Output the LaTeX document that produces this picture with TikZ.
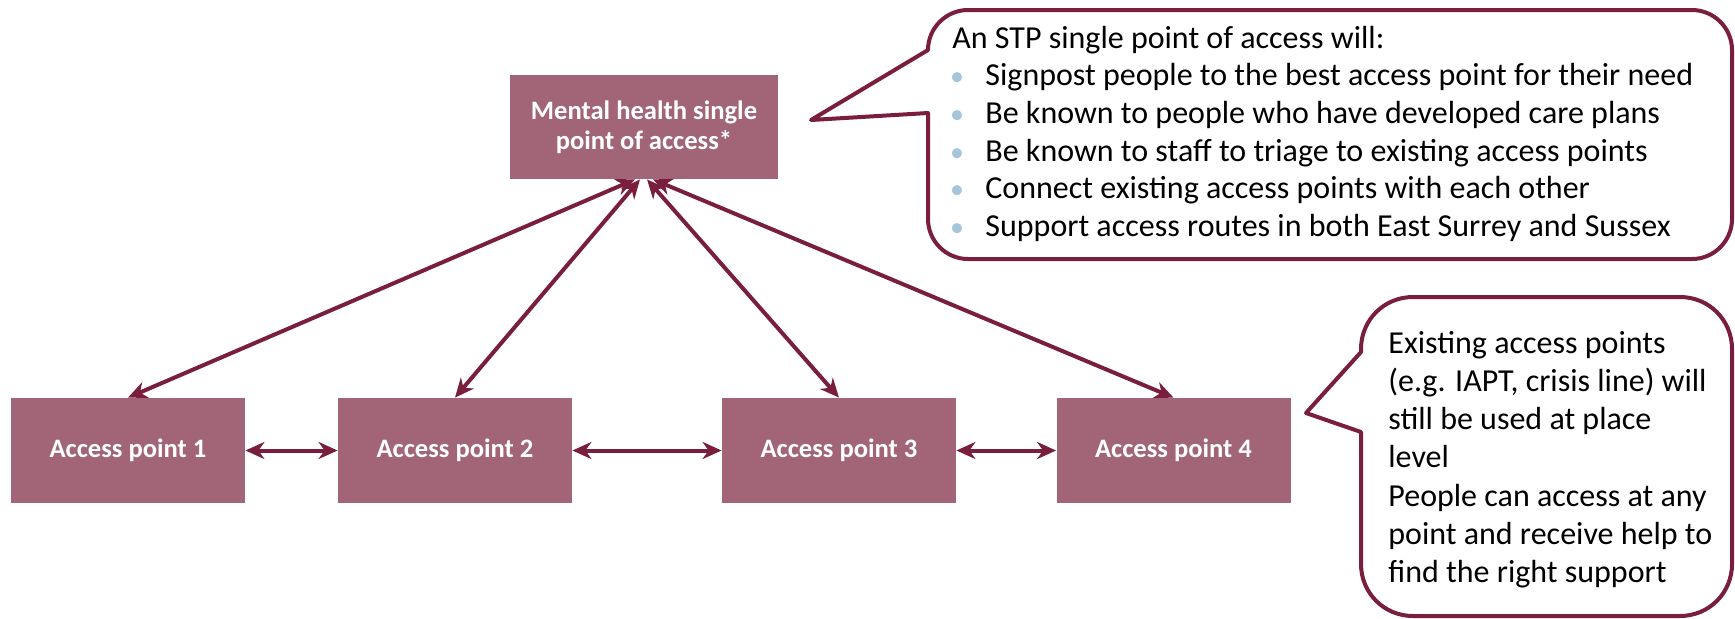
\documentclass[tikz,border=0pt]{standalone}
\usepackage{fontspec}
\setmainfont{Carlito}
\usetikzlibrary{arrows.meta}
\definecolor{boxfill}{RGB}{161,101,119}
\definecolor{maroon}{RGB}{122,30,62}
\definecolor{bulletblue}{RGB}{165,198,218}
\begin{document}
\begin{tikzpicture}[x=0.5pt,y=-0.5pt,
  apbox/.style={fill=boxfill, minimum width=117pt, minimum height=52.5pt, inner sep=0pt,
    text=white, font=\bfseries\fontsize{13.3}{15}\selectfont, align=center},
  tip/.tip={Stealth[length=9.5pt,width=8.5pt,inset=3pt]},
  link/.style={draw=maroon, line width=2pt, tip-tip},
  callout/.style={draw=maroon, line width=2pt, fill=white, line join=round},
  ctext/.style={anchor=base west, inner sep=0pt, font=\fontsize{16}{19}\selectfont},
  bul/.style={anchor=base, inner sep=0pt, text=bulletblue, font=\fontsize{14}{15}\selectfont}]
\useasboundingbox (0,0) rectangle (1735,618);

% boxes
\node[apbox, minimum width=134pt, minimum height=52pt] (top) at (644,127) {Mental health single\\point of access*};
\node[apbox] (ap1) at (128,450.5) {Access point 1};
\node[apbox] (ap2) at (455,450.5) {Access point 2};
\node[apbox] (ap3) at (839,450.5) {Access point 3};
\node[apbox] (ap4) at (1173.5,450.5) {Access point 4};

% connectors
\draw[link] ([xshift=-4.5pt]top.south) -- (ap1.north);
\draw[link] ([xshift=-2pt]top.south) -- (ap2.north);
\draw[link] ([xshift=1.5pt]top.south) -- (ap3.north);
\draw[link] ([xshift=4.5pt]top.south) -- (ap4.north);
\draw[link] (ap1.east) -- (ap2.west);
\draw[link] (ap2.east) -- (ap3.west);
\draw[link] (ap3.east) -- (ap4.west);

% callout 1
\draw[callout] (811,120) -- (928,50) .. controls (928,28) and (946,10) .. (968,10)
  -- (1692,10) .. controls (1714,10) and (1732,28) .. (1732,50)
  -- (1732,219) .. controls (1732,241) and (1714,259) .. (1692,259)
  -- (968,259) .. controls (946,259) and (928,241) .. (928,219)
  -- (928,113) -- cycle;
\node[ctext] (c1h) at (952,48) {An STP single point of access will:};
\node[bul] (b1) at (957,85.7) {•};
\node[bul] (b2) at (957,123.4) {•};
\node[bul] (b3) at (957,161.1) {•};
\node[bul] (b4) at (957,198.8) {•};
\node[bul] (b5) at (957,236.5) {•};
\node[ctext] (c1a) at (985,85.7) {Signpost people to the best access point for their need};
\node[ctext] (c1b) at (985,123.4) {Be known to people who have developed care plans};
\node[ctext] (c1c) at (985,161.1) {Be known to staff to triage to existing access points};
\node[ctext] (c1d) at (985,198.8) {Connect existing access points with each other};
\node[ctext] (c1e) at (985,236.5) {Support access routes in both East Surrey and Sussex};

% callout 2
\draw[callout] (1306,413) -- (1361,352) -- (1361,349) .. controls (1361,320) and (1384,297) .. (1413,297)
  -- (1680,297) .. controls (1709,297) and (1732,320) .. (1732,349)
  -- (1732,564) .. controls (1732,593) and (1709,616) .. (1680,616)
  -- (1413,616) .. controls (1384,616) and (1361,593) .. (1361,564)
  -- (1361,432) -- cycle;
\node[ctext] (c2a) at (1388,353) {Existing access points};
\node[ctext] (c2b) at (1388,391.3) {(e.g. IAPT, crisis line) will};
\node[ctext] (c2c) at (1388,429.6) {still be used at place};
\node[ctext] (c2d) at (1388,467.9) {level};
\node[ctext] (c2e) at (1388,506.2) {People can access at any};
\node[ctext] (c2f) at (1388,544.5) {point and receive help to};
\node[ctext] (c2g) at (1388,582.8) {find the right support};
\end{tikzpicture}
\end{document}
